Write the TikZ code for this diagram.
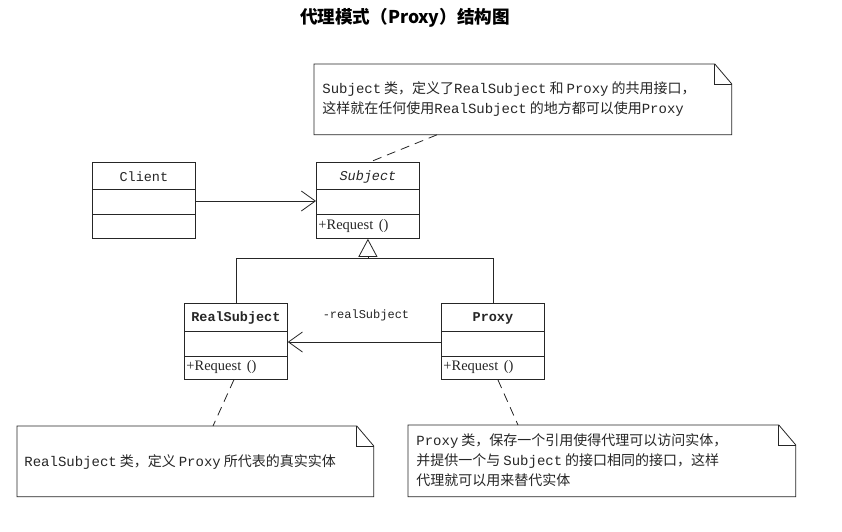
\documentclass[tikz,border=0pt]{standalone}
\usepackage{fontspec}
\usetikzlibrary{arrows.meta,calc}
\newfontfamily\cjk{Noto Sans CJK SC}
\newfontfamily\lmono[Scale=1.0]{Liberation Mono}
\newfontfamily\cmono{Liberation Mono}
\newfontfamily\lserif{Liberation Serif}
\newcommand\gapsp{\hspace{3pt}}
\tikzset{
  clsbox/.style={draw, anchor=north west, minimum width=103pt, minimum height=76pt, inner sep=0pt},
  notebox/.style={anchor=north west, inner sep=0pt},
  notetext/.style={anchor=west, align=left, inner sep=0pt, font=\cjk\fontsize{14}{20}\selectfont},
  clsname/.style={inner sep=0pt, font=\cmono\fontsize{13.5}{15}\selectfont},
  opname/.style={anchor=west, inner sep=0pt, font=\lserif\fontsize{14.5}{16}\selectfont},
  dashline/.style={dash pattern=on 9pt off 6pt},
  assoc/.style={-{Straight Barb[length=14pt,width=20pt]}},
  inherit/.style={-{Triangle[open,length=18pt,width=19pt]}}
}
\begin{document}
\begin{tikzpicture}[x=1pt,y=-1pt,line width=0.8pt,color=black!85]
\fill[white] (0,0) rectangle (842,531);
\useasboundingbox (0,0) rectangle (842,531);

% title
\node[font=\cjk\bfseries\fontsize{17.6}{20}\selectfont, text=black] (title) at (405,18) {代理模式（Proxy）结构图};

% class boxes
\node[clsbox] (client) at (92,162) {};
\node[clsbox] (subject) at (316,162) {};
\node[clsbox] (realsubj) at (184,303) {};
\node[clsbox] (proxy) at (441,303) {};
\foreach \c/\a/\b in {client/27/52, subject/27/52, realsubj/28/53, proxy/28/53}{
  \draw ($(\c.north west)+(0,\a)$) -- ($(\c.north east)+(0,\a)$);
  \draw ($(\c.north west)+(0,\b)$) -- ($(\c.north east)+(0,\b)$);
}
\node[clsname] (clientname) at ($(client.north)+(0,15)$) {Client};
\node[clsname, font=\cmono\itshape\fontsize{13.5}{15}\selectfont] (subjectname) at ($(subject.north)+(0,15)$) {Subject};
\node[clsname, font=\cmono\bfseries\fontsize{13.5}{15}\selectfont] (realname) at ($(realsubj.north)+(0,15)$) {RealSubject};
\node[clsname, font=\cmono\bfseries\fontsize{13.5}{15}\selectfont] (proxyname) at ($(proxy.north)+(0,15)$) {Proxy};
\node[opname] (subjop) at ($(subject.north west)+(2,64)$) {+Request\hspace{2pt} ()};
\node[opname] (realop) at ($(realsubj.north west)+(2,64)$) {+Request\hspace{2pt} ()};
\node[opname] (proxyop) at ($(proxy.north west)+(2,64)$) {+Request\hspace{2pt} ()};

% connectors
\draw[assoc] ($(client.north east)+(0,39)$) -- ($(subject.north west)+(0,39)$);
\draw[assoc] ($(proxy.north west)+(0,39)$) -- ($(realsubj.north east)+(0,39)$);
\node[inner sep=0pt, font=\cmono\fontsize{12}{14}\selectfont] (rlab) at (366,315) {-realSubject};
\coordinate (jn) at ($(subject.south)+(0,20)$);
\draw (realsubj.north) |- (jn) -| (proxy.north);
\draw[inherit] (jn) -- (subject.south);

% notes
\node[notebox, minimum width=417pt, minimum height=70pt] (n1) at (314,64) {};
\node[notebox, minimum width=356pt, minimum height=70pt] (n2) at (17,426) {};
\node[notebox, minimum width=387pt, minimum height=71pt] (n3) at (408,425) {};
\foreach \n in {n1,n2,n3}{
  \draw (\n.north west) -- ($(\n.north east)+(-17,0)$) -- ($(\n.north east)+(0,20)$) -- (\n.south east) -- (\n.south west) -- cycle;
  \draw ($(\n.north east)+(-17,0)$) |- ($(\n.north east)+(0,20)$);
}
\node[notetext] (t1) at (322,99) {{\lmono Subject}\gapsp 类，定义了{\lmono RealSubject}\gapsp 和\gapsp{\lmono Proxy}\gapsp 的共用接口，\\这样就在任何使用{\lmono RealSubject}\gapsp 的地方都可以使用{\lmono Proxy}};
\node[notetext] (t2) at (24,462) {{\lmono RealSubject}\gapsp 类，定义\gapsp{\lmono Proxy}\gapsp 所代表的真实实体};
\node[notetext] (t3) at (416,460) {{\lmono Proxy}\gapsp 类，保存一个引用使得代理可以访问实体，\\并提供一个与\gapsp{\lmono Subject}\gapsp 的接口相同的接口，这样\\代理就可以用来替代实体};

\draw[dashline] ($(n1.south west)+(123,0)$) -- ($(subject.north)+(2,0)$);
\draw[dashline] ($(realsubj.south)+(-2,0)$) -- ($(n2.north west)+(196,0)$);
\draw[dashline] ($(proxy.south)+(5,0)$) -- ($(n3.north west)+(110,0)$);
\end{tikzpicture}
\end{document}
